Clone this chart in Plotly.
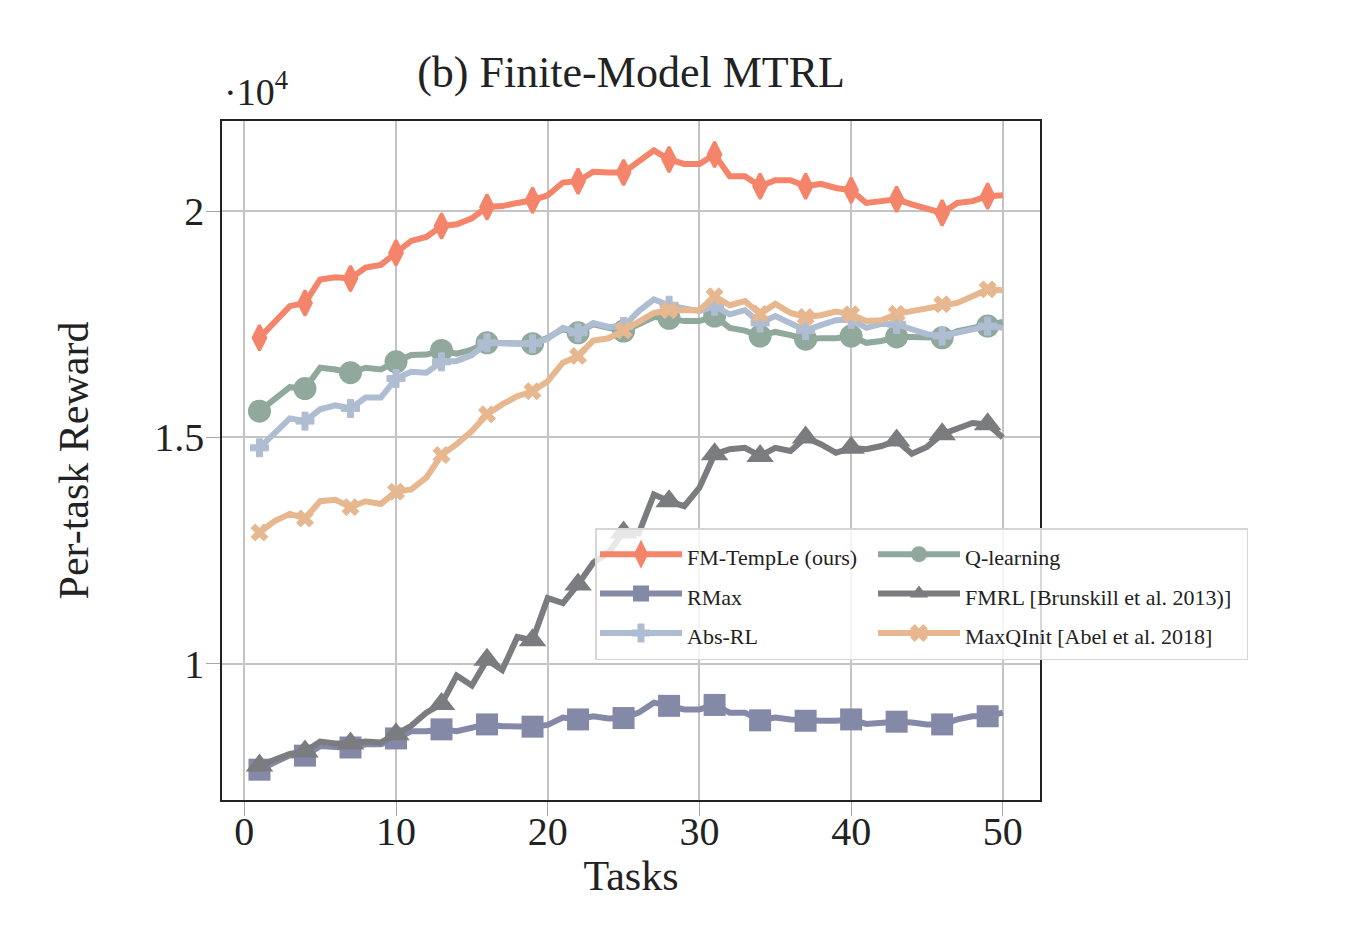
import plotly.graph_objects as go

tasks = list(range(1, 51))

fm_temple = [1.720, 1.756, 1.790, 1.797, 1.849, 1.854, 1.851, 1.875, 1.881, 1.908,
             1.934, 1.943, 1.967, 1.971, 1.984, 2.009, 2.011, 2.018, 2.024, 2.035,
             2.063, 2.066, 2.087, 2.085, 2.085, 2.110, 2.134, 2.114, 2.104, 2.104,
             2.125, 2.077, 2.077, 2.055, 2.068, 2.068, 2.055, 2.060, 2.051, 2.046,
             2.018, 2.022, 2.026, 2.015, 2.004, 1.996, 2.018, 2.022, 2.033, 2.035]

rmax = [0.766, 0.783, 0.798, 0.797, 0.818, 0.816, 0.815, 0.822, 0.822, 0.835,
        0.851, 0.851, 0.855, 0.851, 0.857, 0.866, 0.862, 0.862, 0.861, 0.865,
        0.881, 0.877, 0.884, 0.879, 0.880, 0.892, 0.914, 0.907, 0.899, 0.899,
        0.909, 0.892, 0.892, 0.875, 0.881, 0.877, 0.874, 0.874, 0.874, 0.877,
        0.867, 0.870, 0.872, 0.870, 0.866, 0.866, 0.877, 0.884, 0.884, 0.892]

abs_rl = [1.477, 1.510, 1.542, 1.536, 1.562, 1.571, 1.564, 1.588, 1.588, 1.630,
          1.645, 1.643, 1.667, 1.669, 1.682, 1.709, 1.707, 1.707, 1.707, 1.718,
          1.742, 1.731, 1.753, 1.744, 1.745, 1.779, 1.805, 1.792, 1.785, 1.779,
          1.790, 1.772, 1.781, 1.753, 1.768, 1.753, 1.736, 1.748, 1.759, 1.761,
          1.742, 1.751, 1.750, 1.739, 1.728, 1.724, 1.731, 1.739, 1.746, 1.742]

q_learning = [1.558, 1.584, 1.611, 1.608, 1.654, 1.650, 1.643, 1.654, 1.650, 1.667,
              1.682, 1.683, 1.692, 1.685, 1.694, 1.709, 1.709, 1.709, 1.707, 1.720,
              1.739, 1.731, 1.750, 1.742, 1.735, 1.750, 1.766, 1.763, 1.757, 1.757,
              1.768, 1.742, 1.736, 1.724, 1.733, 1.726, 1.717, 1.719, 1.719, 1.724,
              1.709, 1.713, 1.722, 1.722, 1.720, 1.720, 1.735, 1.742, 1.746, 1.755]

fmrl = [0.775, 0.789, 0.801, 0.806, 0.828, 0.824, 0.824, 0.828, 0.826, 0.844,
        0.863, 0.892, 0.911, 0.974, 0.952, 1.009, 0.986, 1.059, 1.052, 1.145,
        1.134, 1.175, 1.223, 1.245, 1.290, 1.288, 1.374, 1.359, 1.348, 1.389,
        1.463, 1.474, 1.477, 1.459, 1.477, 1.470, 1.500, 1.485, 1.466, 1.477,
        1.474, 1.481, 1.493, 1.464, 1.479, 1.507, 1.521, 1.532, 1.529, 1.500]

max_qinit = [1.290, 1.315, 1.331, 1.321, 1.359, 1.362, 1.346, 1.359, 1.353, 1.380,
             1.385, 1.411, 1.461, 1.485, 1.514, 1.551, 1.573, 1.591, 1.602, 1.624,
             1.665, 1.680, 1.714, 1.719, 1.736, 1.757, 1.775, 1.781, 1.781, 1.781,
             1.812, 1.792, 1.801, 1.773, 1.795, 1.775, 1.766, 1.770, 1.778, 1.772,
             1.757, 1.759, 1.773, 1.779, 1.785, 1.794, 1.797, 1.812, 1.827, 1.825]

x_ticks = [0, 10, 20, 30, 40, 50]
y_ticks = [1, 1.5, 2]
y_tick_labels = ["1", "1.5", "2"]

# name, values, color, symbol, marker size, marker outline, legend column group, legend rank
series = [
    ("FM-TempLe (ours)", fm_temple, "#F4846A", "diamond-tall", 18, 3, "g1", 1),
    ("RMax", rmax, "#8589A8", "square", 22, 0, "g1", 2),
    ("Q-learning", q_learning, "#91A89C", "circle", 23, 0, "g2", 4),
    ("Abs-RL", abs_rl, "#AFBDD2", "cross", 15, 1, "g1", 3),
    ("FMRL [Brunskill et al. 2013)]", fmrl, "#7B7C7F", "triangle-up", 24, 0, "g2", 5),
    ("MaxQInit [Abel et al. 2018]", max_qinit, "#E7B78F", "x", 15, 1, "g2", 6),
]

FONT = "Liberation Serif"
TXT = "#222222"
fig = go.Figure()

for name, vals, color, symbol, msize, mline, grp, rank in series:
    sizes = [msize if (t - 1) % 3 == 0 else 0 for t in tasks]
    widths = [mline if (t - 1) % 3 == 0 else 0 for t in tasks]
    fig.add_trace(go.Scatter(
        x=tasks, y=vals, mode="lines+markers", name=name,
        line=dict(color=color, width=6),
        marker=dict(symbol=symbol, size=sizes, color=color, opacity=1,
                    line=dict(width=widths, color=color)),
        showlegend=False, legendgroup=grp, hoverinfo="skip",
    ))
    # legend entry
    fig.add_trace(go.Scatter(
        x=[None], y=[None], mode="lines+markers",
        name='<span style="font-size:22px">' + name + '</span>',
        line=dict(color=color, width=6),
        marker=dict(symbol=symbol, size=msize, color=color, opacity=1,
                    line=dict(width=mline, color=color)),
        legendgroup=grp, legendrank=rank, showlegend=True,
        legendwidth=(181 if grp == "g1" else 276),
    ))

W, H = 1350, 922
L, T, PW, PH = 214, 113, 818, 679

fig.update_layout(
    width=W, height=H,
    margin=dict(l=L, r=W - L - PW, t=T, b=H - T - PH, autoexpand=False),
    paper_bgcolor="white", plot_bgcolor="white",
    font=dict(family=FONT, color=TXT, size=40),
    title=dict(text="(b) Finite-Model MTRL", x=0.5, xref="paper", xanchor="center",
               y=1 - 64 / H, yanchor="middle", font=dict(size=44, family=FONT, color=TXT)),
    xaxis=dict(range=[-1.47, 52.45], tickvals=x_ticks, showgrid=True,
               gridcolor="#c4c4c4", gridwidth=1.5, zeroline=False,
               showline=True, mirror=True, linecolor=TXT, linewidth=1.5,
               ticks="outside", ticklen=14, tickcolor="#a8a8a8", tickwidth=1,
               ticklabelstandoff=-19,
               tickfont=dict(size=40, family=FONT, color=TXT),
               title=dict(text="Tasks", standoff=8, font=dict(size=42, family=FONT, color=TXT))),
    yaxis=dict(range=[0.699, 2.199], tickvals=y_ticks, ticktext=y_tick_labels, showgrid=True,
               gridcolor="#c4c4c4", gridwidth=1.5, zeroline=False,
               showline=True, mirror=True, linecolor=TXT, linewidth=1.5,
               ticks="outside", ticklen=14, tickcolor="#a8a8a8", tickwidth=1,
               ticklabelstandoff=-6,
               tickfont=dict(size=40, family=FONT, color=TXT),
               title=dict(text="Per-task Reward", standoff=53, font=dict(size=42, family=FONT, color=TXT))),
    legend=dict(
        x=(594 - 221) / 818, y=(799 - 527) / 679, xanchor="left", yanchor="top",
        orientation="h", traceorder="grouped", tracegroupgap=0,
        bgcolor="rgba(255,255,255,0.82)", bordercolor="#d6d6d6", borderwidth=1.5,
        font=dict(family=FONT, size=28, color=TXT),
        itemwidth=82, itemsizing="trace",
    ),
    annotations=[dict(
        text="·10<sup>4</sup>", xref="paper", yref="paper", x=0, y=1,
        xanchor="left", yanchor="bottom", yshift=6, showarrow=False,
        font=dict(size=38, family=FONT, color=TXT),
    )],
)

fig.write_html("out.html")
